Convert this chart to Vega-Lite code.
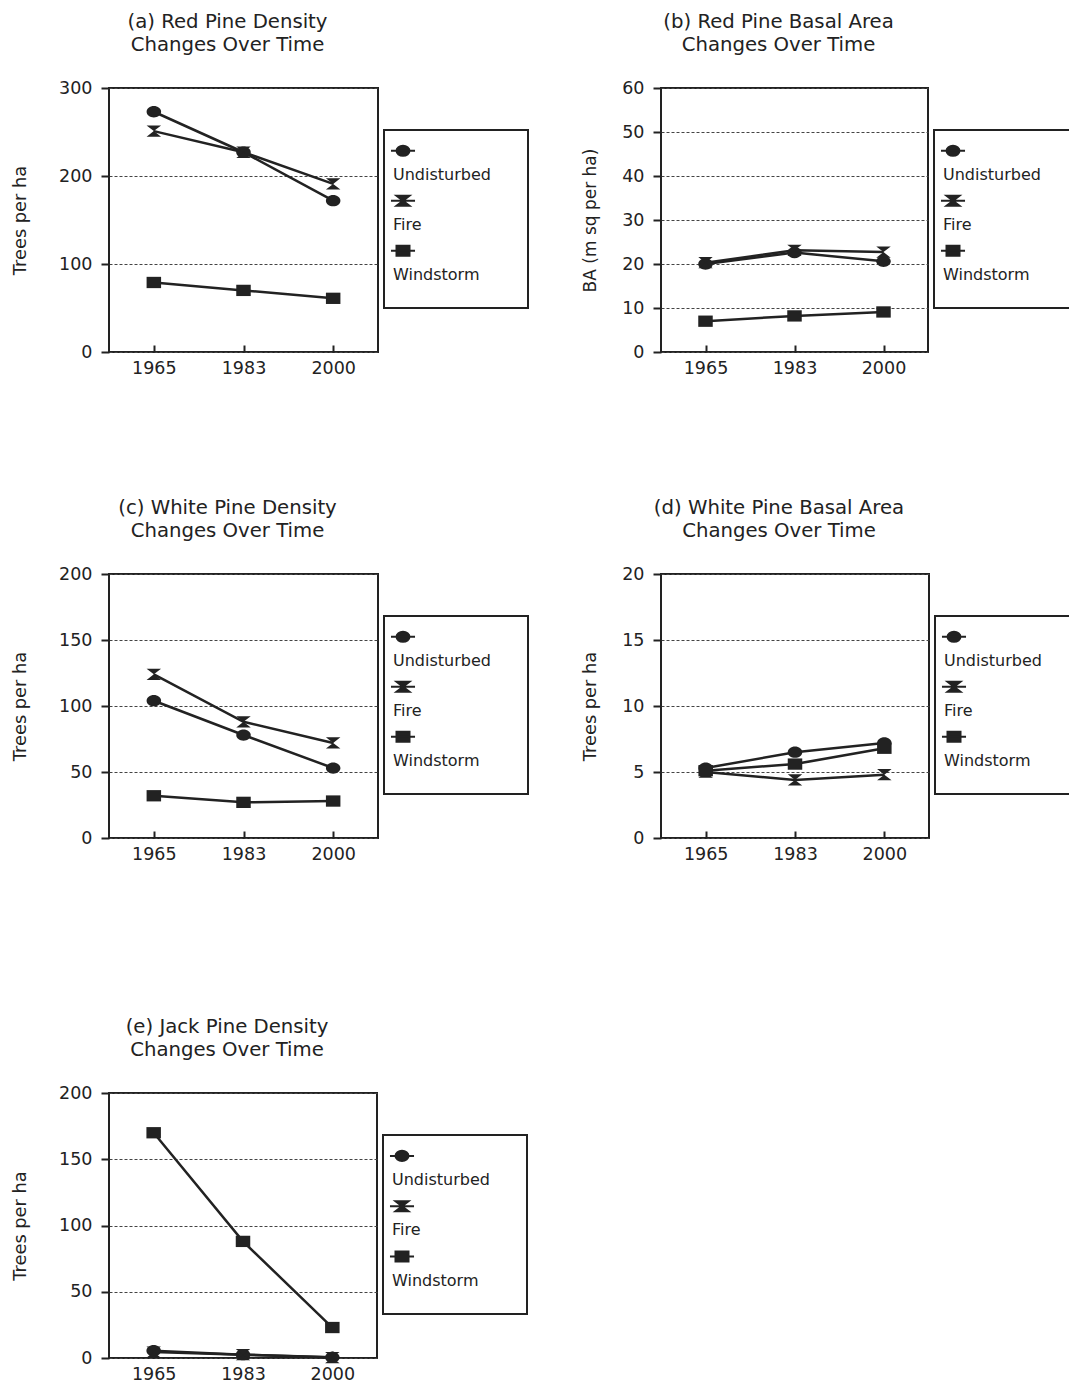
{
  "$schema": "https://vega.github.io/schema/vega-lite/v6.json",
  "background": "white",
  "padding": {"left": 10, "top": 10, "right": 0, "bottom": 0},
  "config": {
    "font": "DejaVu Sans",
    "view": {"stroke": "#222", "strokeWidth": 2},
    "title": {"font": "DejaVu Sans", "fontSize": 19.7, "fontWeight": "normal", "color": "#222", "lineHeight": 23.5, "frame": "group", "anchor": "middle", "dx": -16, "offset": 24},
    "axisY": {"domain": false, "tickSize": 8, "tickWidth": 2, "tickColor": "#222", "labelPadding": 9, "labelFontSize": 17.5, "labelColor": "#222", "labelFont": "DejaVu Sans", "grid": true, "gridColor": "#444", "gridDash": [3, 2], "gridWidth": 1, "titleFont": "DejaVu Sans", "titleFontSize": 17.8, "titleFontWeight": "normal", "titleColor": "#222", "titlePadding": 29},
    "axisX": {"domain": false, "offset": -7, "tickSize": 7, "tickWidth": 2, "tickColor": "#222", "labelPadding": 7.5, "labelFontSize": 17.5, "labelColor": "#222", "labelFont": "DejaVu Sans", "labelAngle": 0, "grid": false, "title": null}
  },
  "datasets": {
    "series": [{"series": "Undisturbed"}, {"series": "Fire"}, {"series": "Windstorm"}],
    "a": [
      {"year": "1965", "series": "Undisturbed", "value": 273}, {"year": "1983", "series": "Undisturbed", "value": 227}, {"year": "2000", "series": "Undisturbed", "value": 172},
      {"year": "1965", "series": "Fire", "value": 251}, {"year": "1983", "series": "Fire", "value": 227}, {"year": "2000", "series": "Fire", "value": 191},
      {"year": "1965", "series": "Windstorm", "value": 79}, {"year": "1983", "series": "Windstorm", "value": 70}, {"year": "2000", "series": "Windstorm", "value": 61}
    ],
    "b": [
      {"year": "1965", "series": "Undisturbed", "value": 20.0}, {"year": "1983", "series": "Undisturbed", "value": 22.6}, {"year": "2000", "series": "Undisturbed", "value": 20.6},
      {"year": "1965", "series": "Fire", "value": 20.3}, {"year": "1983", "series": "Fire", "value": 23.1}, {"year": "2000", "series": "Fire", "value": 22.7},
      {"year": "1965", "series": "Windstorm", "value": 7.0}, {"year": "1983", "series": "Windstorm", "value": 8.2}, {"year": "2000", "series": "Windstorm", "value": 9.1}
    ],
    "c": [
      {"year": "1965", "series": "Undisturbed", "value": 104}, {"year": "1983", "series": "Undisturbed", "value": 78}, {"year": "2000", "series": "Undisturbed", "value": 53},
      {"year": "1965", "series": "Fire", "value": 124}, {"year": "1983", "series": "Fire", "value": 88}, {"year": "2000", "series": "Fire", "value": 72},
      {"year": "1965", "series": "Windstorm", "value": 32}, {"year": "1983", "series": "Windstorm", "value": 27}, {"year": "2000", "series": "Windstorm", "value": 28}
    ],
    "d": [
      {"year": "1965", "series": "Undisturbed", "value": 5.3}, {"year": "1983", "series": "Undisturbed", "value": 6.5}, {"year": "2000", "series": "Undisturbed", "value": 7.2},
      {"year": "1965", "series": "Fire", "value": 5.0}, {"year": "1983", "series": "Fire", "value": 4.4}, {"year": "2000", "series": "Fire", "value": 4.8},
      {"year": "1965", "series": "Windstorm", "value": 5.1}, {"year": "1983", "series": "Windstorm", "value": 5.6}, {"year": "2000", "series": "Windstorm", "value": 6.8}
    ],
    "e": [
      {"year": "1965", "series": "Undisturbed", "value": 5.5}, {"year": "1983", "series": "Undisturbed", "value": 2.5}, {"year": "2000", "series": "Undisturbed", "value": 0.5},
      {"year": "1965", "series": "Fire", "value": 4.5}, {"year": "1983", "series": "Fire", "value": 2.5}, {"year": "2000", "series": "Fire", "value": 0.3},
      {"year": "1965", "series": "Windstorm", "value": 170}, {"year": "1983", "series": "Windstorm", "value": 88}, {"year": "2000", "series": "Windstorm", "value": 23}
    ]
  },
  "spacing": 151,
  "vconcat": [
    {
      "spacing": 118,
      "vconcat": [
        {
          "spacing": 51,
          "hconcat": [
            {
              "spacing": 4,
              "hconcat": [
                {
                  "width": 269, "height": 264,
                  "title": {"text": ["(a) Red Pine Density", "Changes Over Time"]},
                  "data": {"name": "a"},
                  "encoding": {
                    "x": {"field": "year", "type": "ordinal", "scale": {"type": "point", "padding": 0.5}, "title": null},
                    "y": {"field": "value", "type": "quantitative", "scale": {"domain": [0, 300], "nice": false}, "axis": {"values": [0, 100, 200, 300], "title": "Trees per ha"}}
                  },
                  "layer": [
                    {"mark": {"type": "line", "color": "#222", "strokeWidth": 2.5}, "encoding": {"detail": {"field": "series"}}},
                    {"mark": {"type": "point", "filled": true, "color": "#222", "opacity": 1, "size": 210}, "encoding": {"shape": {"field": "series", "scale": {"domain": ["Undisturbed", "Fire", "Windstorm"], "range": ["M-1,0A1,0.78 0 1,1 1,0A1,0.78 0 1,1 -1,0Z", "M-1,-0.78L1,-0.78L0,0L1,0.78L-1,0.78L0,0Z", "M-1,-0.78H1V0.78H-1Z"]}, "legend": null}}}
                  ]
                },
                {
                  "spacing": 0,
                  "vconcat": [
                    {"width": 144, "height": 41, "view": {"stroke": null}, "data": {"name": "series"}, "mark": {"type": "text", "text": ""}},
                    {
                      "width": 144, "height": 178,
                      "data": {"name": "series"},
                      "encoding": {"y": {"field": "series", "type": "nominal", "scale": {"type": "point", "domain": ["Undisturbed", "Fire", "Windstorm"], "padding": 0.78, "align": 0.42}, "axis": null}},
                      "layer": [
                        {"mark": {"type": "text", "align": "left", "baseline": "middle", "dx": -63, "dy": 12, "fontSize": 16, "font": "DejaVu Sans", "color": "#222"}, "encoding": {"text": {"field": "series"}}},
                        {"transform": [{"filter": "datum.series === 'Undisturbed'"}], "mark": {"type": "point", "shape": "M-1.85,0H1.85M-1,0A1,0.78 0 1,1 1,0A1,0.78 0 1,1 -1,0Z", "filled": true, "color": "#222", "stroke": "#222", "strokeWidth": 2, "size": 169, "opacity": 1, "xOffset": -53, "yOffset": -12}},
                        {"transform": [{"filter": "datum.series === 'Fire'"}], "mark": {"type": "point", "shape": "M-1.85,0H1.85M-1,-0.78L1,-0.78L0,0L1,0.78L-1,0.78L0,0Z", "filled": true, "color": "#222", "stroke": "#222", "strokeWidth": 2, "size": 169, "opacity": 1, "xOffset": -53, "yOffset": -12}},
                        {"transform": [{"filter": "datum.series === 'Windstorm'"}], "mark": {"type": "point", "shape": "M-1.85,0H1.85M-1,-0.78H1V0.78H-1Z", "filled": true, "color": "#222", "stroke": "#222", "strokeWidth": 2, "size": 169, "opacity": 1, "xOffset": -53, "yOffset": -12}}
                      ]
                    }
                  ]
                }
              ]
            },
            {
              "spacing": 4,
              "hconcat": [
                {
                  "width": 267, "height": 264,
                  "title": {"text": ["(b) Red Pine Basal Area", "Changes Over Time"]},
                  "data": {"name": "b"},
                  "encoding": {
                    "x": {"field": "year", "type": "ordinal", "scale": {"type": "point", "padding": 0.5}, "title": null},
                    "y": {"field": "value", "type": "quantitative", "scale": {"domain": [0, 60], "nice": false}, "axis": {"values": [0, 10, 20, 30, 40, 50, 60], "title": "BA (m sq per ha)", "titleFontSize": 17, "titlePadding": 22}}
                  },
                  "layer": [
                    {"mark": {"type": "line", "color": "#222", "strokeWidth": 2.5}, "encoding": {"detail": {"field": "series"}}},
                    {"mark": {"type": "point", "filled": true, "color": "#222", "opacity": 1, "size": 210}, "encoding": {"shape": {"field": "series", "scale": {"domain": ["Undisturbed", "Fire", "Windstorm"], "range": ["M-1,0A1,0.78 0 1,1 1,0A1,0.78 0 1,1 -1,0Z", "M-1,-0.78L1,-0.78L0,0L1,0.78L-1,0.78L0,0Z", "M-1,-0.78H1V0.78H-1Z"]}, "legend": null}}}
                  ]
                },
                {
                  "spacing": 0,
                  "vconcat": [
                    {"width": 144, "height": 41, "view": {"stroke": null}, "data": {"name": "series"}, "mark": {"type": "text", "text": ""}},
                    {
                      "width": 144, "height": 178,
                      "data": {"name": "series"},
                      "encoding": {"y": {"field": "series", "type": "nominal", "scale": {"type": "point", "domain": ["Undisturbed", "Fire", "Windstorm"], "padding": 0.78, "align": 0.42}, "axis": null}},
                      "layer": [
                        {"mark": {"type": "text", "align": "left", "baseline": "middle", "dx": -63, "dy": 12, "fontSize": 16, "font": "DejaVu Sans", "color": "#222"}, "encoding": {"text": {"field": "series"}}},
                        {"transform": [{"filter": "datum.series === 'Undisturbed'"}], "mark": {"type": "point", "shape": "M-1.85,0H1.85M-1,0A1,0.78 0 1,1 1,0A1,0.78 0 1,1 -1,0Z", "filled": true, "color": "#222", "stroke": "#222", "strokeWidth": 2, "size": 169, "opacity": 1, "xOffset": -53, "yOffset": -12}},
                        {"transform": [{"filter": "datum.series === 'Fire'"}], "mark": {"type": "point", "shape": "M-1.85,0H1.85M-1,-0.78L1,-0.78L0,0L1,0.78L-1,0.78L0,0Z", "filled": true, "color": "#222", "stroke": "#222", "strokeWidth": 2, "size": 169, "opacity": 1, "xOffset": -53, "yOffset": -12}},
                        {"transform": [{"filter": "datum.series === 'Windstorm'"}], "mark": {"type": "point", "shape": "M-1.85,0H1.85M-1,-0.78H1V0.78H-1Z", "filled": true, "color": "#222", "stroke": "#222", "strokeWidth": 2, "size": 169, "opacity": 1, "xOffset": -53, "yOffset": -12}}
                      ]
                    }
                  ]
                }
              ]
            }
          ]
        },
        {
          "spacing": 51,
          "hconcat": [
            {
              "spacing": 4,
              "hconcat": [
                {
                  "width": 269, "height": 264,
                  "title": {"text": ["(c) White Pine Density", "Changes Over Time"]},
                  "data": {"name": "c"},
                  "encoding": {
                    "x": {"field": "year", "type": "ordinal", "scale": {"type": "point", "padding": 0.5}, "title": null},
                    "y": {"field": "value", "type": "quantitative", "scale": {"domain": [0, 200], "nice": false}, "axis": {"values": [0, 50, 100, 150, 200], "title": "Trees per ha"}}
                  },
                  "layer": [
                    {"mark": {"type": "line", "color": "#222", "strokeWidth": 2.5}, "encoding": {"detail": {"field": "series"}}},
                    {"mark": {"type": "point", "filled": true, "color": "#222", "opacity": 1, "size": 210}, "encoding": {"shape": {"field": "series", "scale": {"domain": ["Undisturbed", "Fire", "Windstorm"], "range": ["M-1,0A1,0.78 0 1,1 1,0A1,0.78 0 1,1 -1,0Z", "M-1,-0.78L1,-0.78L0,0L1,0.78L-1,0.78L0,0Z", "M-1,-0.78H1V0.78H-1Z"]}, "legend": null}}}
                  ]
                },
                {
                  "spacing": 0,
                  "vconcat": [
                    {"width": 144, "height": 41, "view": {"stroke": null}, "data": {"name": "series"}, "mark": {"type": "text", "text": ""}},
                    {
                      "width": 144, "height": 178,
                      "data": {"name": "series"},
                      "encoding": {"y": {"field": "series", "type": "nominal", "scale": {"type": "point", "domain": ["Undisturbed", "Fire", "Windstorm"], "padding": 0.78, "align": 0.42}, "axis": null}},
                      "layer": [
                        {"mark": {"type": "text", "align": "left", "baseline": "middle", "dx": -63, "dy": 12, "fontSize": 16, "font": "DejaVu Sans", "color": "#222"}, "encoding": {"text": {"field": "series"}}},
                        {"transform": [{"filter": "datum.series === 'Undisturbed'"}], "mark": {"type": "point", "shape": "M-1.85,0H1.85M-1,0A1,0.78 0 1,1 1,0A1,0.78 0 1,1 -1,0Z", "filled": true, "color": "#222", "stroke": "#222", "strokeWidth": 2, "size": 169, "opacity": 1, "xOffset": -53, "yOffset": -12}},
                        {"transform": [{"filter": "datum.series === 'Fire'"}], "mark": {"type": "point", "shape": "M-1.85,0H1.85M-1,-0.78L1,-0.78L0,0L1,0.78L-1,0.78L0,0Z", "filled": true, "color": "#222", "stroke": "#222", "strokeWidth": 2, "size": 169, "opacity": 1, "xOffset": -53, "yOffset": -12}},
                        {"transform": [{"filter": "datum.series === 'Windstorm'"}], "mark": {"type": "point", "shape": "M-1.85,0H1.85M-1,-0.78H1V0.78H-1Z", "filled": true, "color": "#222", "stroke": "#222", "strokeWidth": 2, "size": 169, "opacity": 1, "xOffset": -53, "yOffset": -12}}
                      ]
                    }
                  ]
                }
              ]
            },
            {
              "spacing": 4,
              "hconcat": [
                {
                  "width": 268, "height": 264,
                  "title": {"text": ["(d) White Pine Basal Area", "Changes Over Time"]},
                  "data": {"name": "d"},
                  "encoding": {
                    "x": {"field": "year", "type": "ordinal", "scale": {"type": "point", "padding": 0.5}, "title": null},
                    "y": {"field": "value", "type": "quantitative", "scale": {"domain": [0, 20], "nice": false}, "axis": {"values": [0, 5, 10, 15, 20], "title": "Trees per ha", "titlePadding": 22}}
                  },
                  "layer": [
                    {"mark": {"type": "line", "color": "#222", "strokeWidth": 2.5}, "encoding": {"detail": {"field": "series"}}},
                    {"mark": {"type": "point", "filled": true, "color": "#222", "opacity": 1, "size": 210}, "encoding": {"shape": {"field": "series", "scale": {"domain": ["Undisturbed", "Fire", "Windstorm"], "range": ["M-1,0A1,0.78 0 1,1 1,0A1,0.78 0 1,1 -1,0Z", "M-1,-0.78L1,-0.78L0,0L1,0.78L-1,0.78L0,0Z", "M-1,-0.78H1V0.78H-1Z"]}, "legend": null}}}
                  ]
                },
                {
                  "spacing": 0,
                  "vconcat": [
                    {"width": 144, "height": 41, "view": {"stroke": null}, "data": {"name": "series"}, "mark": {"type": "text", "text": ""}},
                    {
                      "width": 144, "height": 178,
                      "data": {"name": "series"},
                      "encoding": {"y": {"field": "series", "type": "nominal", "scale": {"type": "point", "domain": ["Undisturbed", "Fire", "Windstorm"], "padding": 0.78, "align": 0.42}, "axis": null}},
                      "layer": [
                        {"mark": {"type": "text", "align": "left", "baseline": "middle", "dx": -63, "dy": 12, "fontSize": 16, "font": "DejaVu Sans", "color": "#222"}, "encoding": {"text": {"field": "series"}}},
                        {"transform": [{"filter": "datum.series === 'Undisturbed'"}], "mark": {"type": "point", "shape": "M-1.85,0H1.85M-1,0A1,0.78 0 1,1 1,0A1,0.78 0 1,1 -1,0Z", "filled": true, "color": "#222", "stroke": "#222", "strokeWidth": 2, "size": 169, "opacity": 1, "xOffset": -53, "yOffset": -12}},
                        {"transform": [{"filter": "datum.series === 'Fire'"}], "mark": {"type": "point", "shape": "M-1.85,0H1.85M-1,-0.78L1,-0.78L0,0L1,0.78L-1,0.78L0,0Z", "filled": true, "color": "#222", "stroke": "#222", "strokeWidth": 2, "size": 169, "opacity": 1, "xOffset": -53, "yOffset": -12}},
                        {"transform": [{"filter": "datum.series === 'Windstorm'"}], "mark": {"type": "point", "shape": "M-1.85,0H1.85M-1,-0.78H1V0.78H-1Z", "filled": true, "color": "#222", "stroke": "#222", "strokeWidth": 2, "size": 169, "opacity": 1, "xOffset": -53, "yOffset": -12}}
                      ]
                    }
                  ]
                }
              ]
            }
          ]
        }
      ]
    },
    {
      "spacing": 4,
      "hconcat": [
        {
          "width": 268, "height": 265,
          "title": {"text": ["(e) Jack Pine Density", "Changes Over Time"]},
          "data": {"name": "e"},
          "encoding": {
            "x": {"field": "year", "type": "ordinal", "scale": {"type": "point", "padding": 0.5}, "title": null},
            "y": {"field": "value", "type": "quantitative", "scale": {"domain": [0, 200], "nice": false}, "axis": {"values": [0, 50, 100, 150, 200], "title": "Trees per ha"}}
          },
          "layer": [
            {"mark": {"type": "line", "color": "#222", "strokeWidth": 2.5}, "encoding": {"detail": {"field": "series"}}},
            {"mark": {"type": "point", "filled": true, "color": "#222", "opacity": 1, "size": 210}, "encoding": {"shape": {"field": "series", "scale": {"domain": ["Undisturbed", "Fire", "Windstorm"], "range": ["M-1,0A1,0.78 0 1,1 1,0A1,0.78 0 1,1 -1,0Z", "M-1,-0.78L1,-0.78L0,0L1,0.78L-1,0.78L0,0Z", "M-1,-0.78H1V0.78H-1Z"]}, "legend": null}}}
          ]
        },
        {
          "spacing": 0,
          "vconcat": [
            {"width": 144, "height": 41, "view": {"stroke": null}, "data": {"name": "series"}, "mark": {"type": "text", "text": ""}},
            {
              "width": 144, "height": 179,
              "data": {"name": "series"},
              "encoding": {"y": {"field": "series", "type": "nominal", "scale": {"type": "point", "domain": ["Undisturbed", "Fire", "Windstorm"], "padding": 0.78, "align": 0.42}, "axis": null}},
              "layer": [
                {"mark": {"type": "text", "align": "left", "baseline": "middle", "dx": -63, "dy": 12, "fontSize": 16, "font": "DejaVu Sans", "color": "#222"}, "encoding": {"text": {"field": "series"}}},
                {"transform": [{"filter": "datum.series === 'Undisturbed'"}], "mark": {"type": "point", "shape": "M-1.85,0H1.85M-1,0A1,0.78 0 1,1 1,0A1,0.78 0 1,1 -1,0Z", "filled": true, "color": "#222", "stroke": "#222", "strokeWidth": 2, "size": 169, "opacity": 1, "xOffset": -53, "yOffset": -12}},
                {"transform": [{"filter": "datum.series === 'Fire'"}], "mark": {"type": "point", "shape": "M-1.85,0H1.85M-1,-0.78L1,-0.78L0,0L1,0.78L-1,0.78L0,0Z", "filled": true, "color": "#222", "stroke": "#222", "strokeWidth": 2, "size": 169, "opacity": 1, "xOffset": -53, "yOffset": -12}},
                {"transform": [{"filter": "datum.series === 'Windstorm'"}], "mark": {"type": "point", "shape": "M-1.85,0H1.85M-1,-0.78H1V0.78H-1Z", "filled": true, "color": "#222", "stroke": "#222", "strokeWidth": 2, "size": 169, "opacity": 1, "xOffset": -53, "yOffset": -12}}
              ]
            }
          ]
        }
      ]
    }
  ]
}
